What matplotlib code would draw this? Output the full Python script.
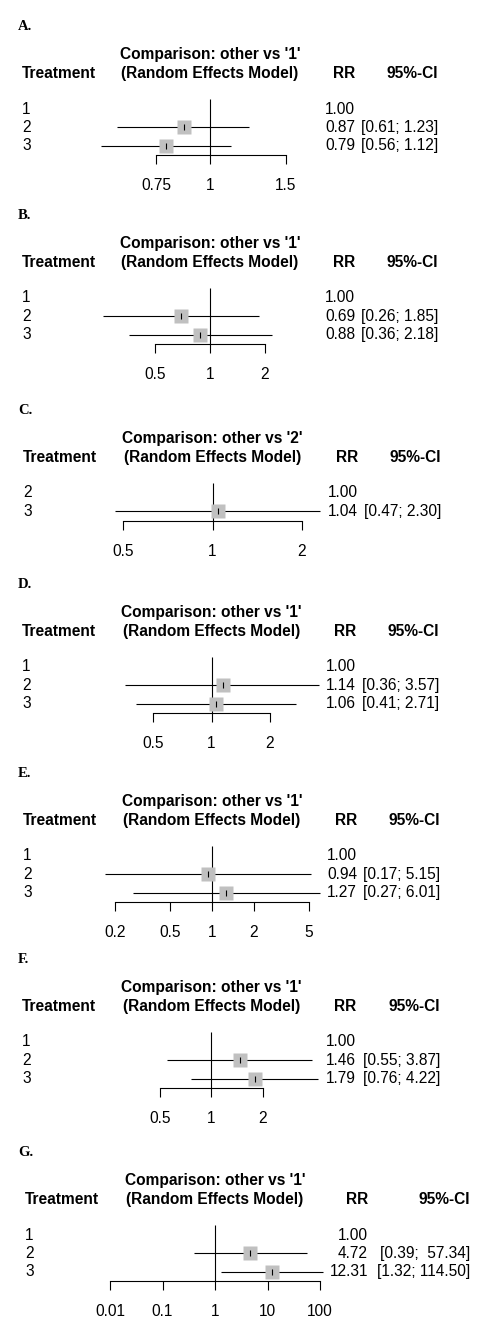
import numpy as np
import matplotlib.pyplot as plt

plt.rcParams['font.family'] = ['Liberation Sans', 'DejaVu Sans']

# data
panel_labels = ['A.', 'B.', 'C.', 'D.', 'E.', 'F.', 'G.']
references = ['1', '1', '2', '1', '1', '1', '1']
treatments = [['1', '2', '3'], ['1', '2', '3'], ['2', '3'], ['1', '2', '3'],
              ['1', '2', '3'], ['1', '2', '3'], ['1', '2', '3']]
rr = [[1.00, 0.87, 0.79], [1.00, 0.69, 0.88], [1.00, 1.04], [1.00, 1.14, 1.06],
      [1.00, 0.94, 1.27], [1.00, 1.46, 1.79], [1.00, 4.72, 12.31]]
ci_low = [[None, 0.61, 0.56], [None, 0.26, 0.36], [None, 0.47], [None, 0.36, 0.41],
          [None, 0.17, 0.27], [None, 0.55, 0.76], [None, 0.39, 1.32]]
ci_high = [[None, 1.23, 1.12], [None, 1.85, 2.18], [None, 2.30], [None, 3.57, 2.71],
           [None, 5.15, 6.01], [None, 3.87, 4.22], [None, 57.34, 114.50]]
xticks = [[0.75, 1, 1.5], [0.5, 1, 2], [0.5, 1, 2], [0.5, 1, 2],
          [0.2, 0.5, 1, 2, 5], [0.5, 1, 2], [0.01, 0.1, 1, 10, 100]]
xtick_labels = [['0.75', '1', '1.5'], ['0.5', '1', '2'], ['0.5', '1', '2'], ['0.5', '1', '2'],
                ['0.2', '0.5', '1', '2', '5'], ['0.5', '1', '2'], ['0.01', '0.1', '1', '10', '100']]

# layout in pixels
W, H = 492, 1335
sp = 18.4
row1_y = [109, 298, 493, 667, 856, 1042, 1235]
axis_px = [(156, 286), (155, 265), (123, 302), (153, 270), (115, 309), (160, 263), (110, 320)]
rr_right = [355, 355, 358, 356, 357, 356, 368]
ci_right = [438, 438, 441, 439, 440, 440, 470]
trt_left = [22, 22, 23, 22, 23, 22, 25]
fs = 11.2

fig = plt.figure(figsize=(W / 100, H / 100), dpi=100)

for i in range(len(panel_labels)):
    n = len(treatments[i])
    top_r, bot_r = -5.0, n - 0.5
    top_px = row1_y[i] + top_r * sp
    bot_px = row1_y[i] + bot_r * sp
    ax = fig.add_axes([0, 1 - bot_px / H, 1, (bot_px - top_px) / H])
    ax.set_xscale('log')
    t_lo, t_hi = xticks[i][0], xticks[i][-1]
    b = (axis_px[i][1] - axis_px[i][0]) / (np.log(t_hi) - np.log(t_lo))
    a = axis_px[i][0] - b * np.log(t_lo)
    ax.set_xlim(np.exp(-a / b), np.exp((W - a) / b))
    ax.set_ylim(bot_r, top_r)
    for s in ['top', 'left', 'right']:
        ax.spines[s].set_visible(False)
    ax.spines['bottom'].set_bounds(t_lo, t_hi)
    ax.spines['bottom'].set_linewidth(0.8)
    ax.set_xticks(xticks[i])
    ax.set_xticklabels(xtick_labels[i])
    ax.xaxis.set_minor_locator(plt.NullLocator())
    ax.tick_params(axis='x', length=6.5, width=0.8, labelsize=fs, pad=10)
    ax.set_yticks([])
    ax.patch.set_visible(False)

    tr = ax.get_yaxis_transform()
    ax.vlines(1, -0.55, bot_r, color='black', lw=0.8)

    # headers
    ax.text(18 / W, -4.5, panel_labels[i], transform=tr, ha='left', va='center',
            family='Liberation Serif', weight='bold', fontsize=10.5)
    ax.text(1, -2.95, "Comparison: other vs '%s'" % references[i], ha='center', va='center',
            fontsize=fs, weight='bold')
    ax.text(1, -1.95, "(Random Effects Model)", ha='center', va='center', fontsize=fs, weight='bold')
    ax.text(trt_left[i] / W, -1.95, 'Treatment', transform=tr, ha='left', va='center',
            fontsize=fs, weight='bold')
    ax.text(rr_right[i] / W, -1.95, 'RR', transform=tr, ha='right', va='center',
            fontsize=fs, weight='bold')
    ax.text(ci_right[i] / W, -1.95, '95%-CI', transform=tr, ha='right', va='center',
            fontsize=fs, weight='bold')

    his = [f'{h:.2f}' for h in ci_high[i] if h is not None]
    wid = max(len(h) for h in his)
    for r in range(n):
        ax.text(trt_left[i] / W, r, treatments[i][r], transform=tr, ha='left', va='center', fontsize=fs)
        ax.text(rr_right[i] / W, r, f'{rr[i][r]:.2f}', transform=tr, ha='right', va='center', fontsize=fs)
        if ci_low[i][r] is None:
            continue
        ci_txt = f'[{ci_low[i][r]:.2f}; ' + f'{ci_high[i][r]:.2f}'.rjust(wid) + ']'
        ax.text(ci_right[i] / W, r, ci_txt, transform=tr, ha='right', va='center', fontsize=fs)
        ax.hlines(r, ci_low[i][r], ci_high[i][r], color='black', lw=0.8)
        ax.plot(rr[i][r], r, marker='s', ms=10, color='#c0c0c0', mec='none')
        ax.plot(rr[i][r], r, marker='|', ms=4, mew=0.8, color='black')

fig.savefig('out.png', dpi=100)
